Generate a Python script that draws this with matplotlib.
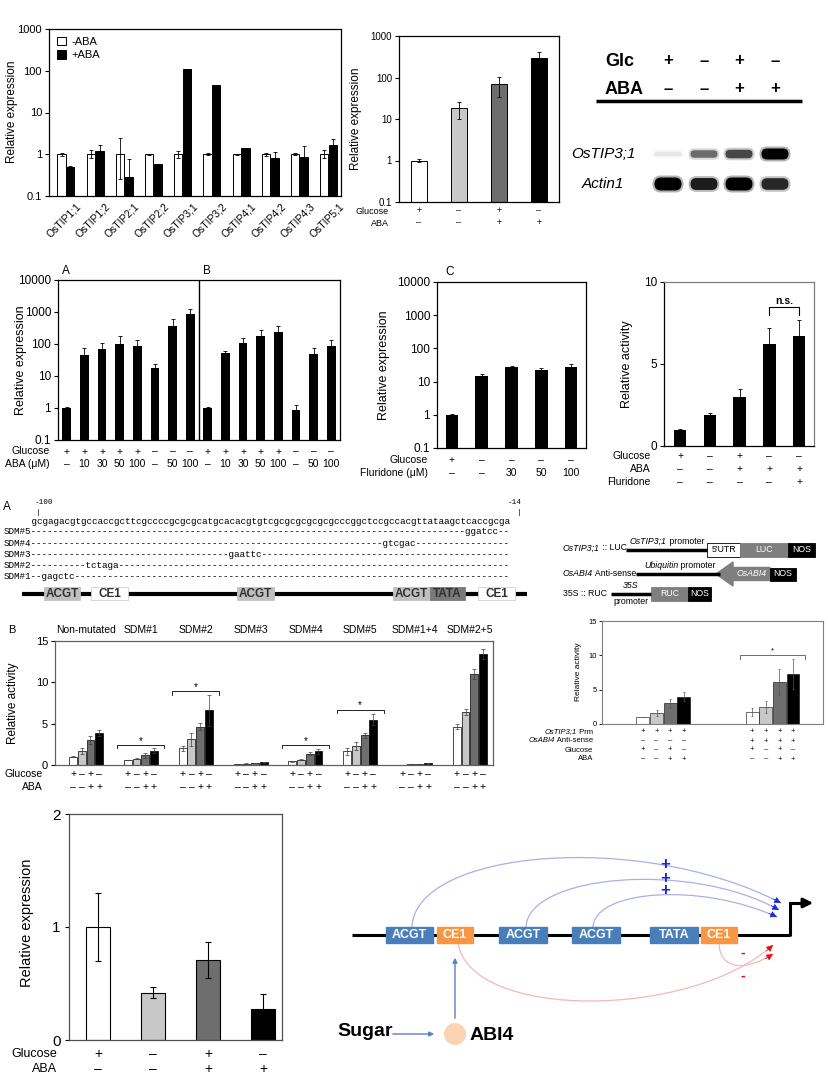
import matplotlib
matplotlib.use('Agg')
import matplotlib.pyplot as plt
import matplotlib.transforms as mtransforms
from matplotlib.patches import Rectangle, Polygon, Circle, FancyBboxPatch, PathPatch
from matplotlib.path import Path
from matplotlib.ticker import NullLocator
import numpy as np

plt.rcParams['font.family'] = ['Liberation Sans', 'DejaVu Sans']
plt.rcParams['axes.linewidth'] = 0.9

# ---------------- data ----------------
# TIP family, -ABA / +ABA
tip_genes = ['OsTIP1;1', 'OsTIP1;2', 'OsTIP2;1', 'OsTIP2;2', 'OsTIP3;1',
             'OsTIP3;2', 'OsTIP4;1', 'OsTIP4;2', 'OsTIP4;3', 'OsTIP5;1']
tip_minus = [1.0, 1.0, 1.0, 1.0, 1.0, 1.0, 1.0, 1.0, 1.0, 1.0]
tip_minus_lo = [0.08, 0.2, 0.75, 0.03, 0.2, 0.05, 0.03, 0.1, 0.06, 0.2]
tip_minus_hi = [0.08, 0.25, 1.5, 0.03, 0.2, 0.05, 0.03, 0.1, 0.06, 0.25]
tip_plus = [0.5, 1.2, 0.29, 0.57, 110, 45, 1.4, 0.82, 0.88, 1.65]
tip_plus_err = [0.03, 0.45, 0.5, 0.01, 3, 1.5, 0.05, 0.3, 0.7, 0.7]

# glucose / ABA qPCR
trt_glc = ['+', '–', '+', '–']
trt_aba = ['–', '–', '+', '+']
trt_expr = [1.0, 18, 68, 290]
trt_err = [0.07, 8, 35, 120]

# RT-PCR gel
gel_glc = ['+', '–', '+', '–']
gel_aba = ['–', '–', '+', '+']
band_tip31 = [0.08, 0.5, 0.65, 1.0]
band_actin = [1.0, 0.85, 1.0, 0.8]

# ABA dose response (A and B)
dose_glc = ['+', '+', '+', '+', '+', '–', '–', '–']
dose_aba = ['–', '10', '30', '50', '100', '–', '50', '100']
dose_a = [1.0, 45, 70, 100, 85, 18, 370, 870]
dose_a_err = [0.08, 28, 40, 75, 50, 5, 230, 350]
dose_b = [1.0, 52, 105, 180, 245, 0.88, 48, 85]
dose_b_err = [0.1, 8, 50, 100, 120, 0.35, 25, 45]

# fluridone (C)
flu_glc = ['+', '–', '–', '–', '–']
flu_dose = ['–', '–', '30', '50', '100']
flu_expr = [1.0, 15, 27, 22, 28]
flu_err = [0.08, 2, 2.5, 3, 5]

# promoter activity with fluridone
act_glc = ['+', '–', '+', '–', '–']
act_aba = ['–', '–', '+', '+', '+']
act_flu = ['–', '–', '–', '–', '+']
act_val = [1.0, 1.9, 3.0, 6.2, 6.7]
act_err = [0.03, 0.12, 0.5, 1.0, 1.0]

# promoter sequence and mutations
promoter_seq = 'gcgagacgtgccaccgcttcgccccgcgcgcatgcacacgtgtcgcgcgcgcgcgcccggctccgccacgttataagctcaccgcga'
sdm_names = ['SDM#5', 'SDM#4', 'SDM#3', 'SDM#2', 'SDM#1']
sdm_sites = [79, 64, 36, 10, 2]
sdm_muts = ['ggatcc', 'gtcgac', 'gaattc', 'tctaga', 'gagctc']

# site-directed mutants, activity
sdm_groups = ['Non-mutated', 'SDM#1', 'SDM#2', 'SDM#3', 'SDM#4', 'SDM#5', 'SDM#1+4', 'SDM#2+5']
sdm_glc = [1.0, 0.6, 2.0, 0.15, 0.45, 1.65, 0.05, 4.65]
sdm_ctrl = [1.65, 0.75, 3.1, 0.17, 0.65, 2.3, 0.1, 6.45]
sdm_glc_aba = [3.0, 1.2, 4.65, 0.25, 1.35, 3.6, 0.15, 11.05]
sdm_aba = [3.85, 1.75, 6.6, 0.35, 1.65, 5.5, 0.2, 13.4]
sdm_glc_err = [0.05, 0.05, 0.35, 0.02, 0.05, 0.4, 0.01, 0.25]
sdm_ctrl_err = [0.35, 0.08, 0.8, 0.02, 0.08, 0.5, 0.02, 0.35]
sdm_glc_aba_err = [0.5, 0.3, 0.4, 0.03, 0.2, 0.3, 0.02, 0.6]
sdm_aba_err = [0.4, 0.3, 1.9, 0.05, 0.3, 0.7, 0.03, 0.6]
sdm_sig_groups = [1, 2, 4, 5]
sdm_sig_y = [2.4, 8.9, 2.4, 6.7]
cond_glc = ['+', '–', '+', '–']
cond_aba = ['–', '–', '+', '+']

# ABI4 anti-sense
as_ctrl = [1.0, 1.6, 3.0, 4.0]
as_ctrl_err = [0.05, 0.5, 0.7, 0.6]
as_anti = [1.7, 2.5, 6.1, 7.25]
as_anti_err = [0.6, 0.9, 1.9, 2.2]
as_prm = ['+', '+', '+', '+', '+', '+', '+', '+']
as_anti_row = ['–', '–', '–', '–', '+', '+', '+', '+']

# bottom qPCR
bl_glc = ['+', '–', '+', '–']
bl_aba = ['–', '–', '+', '+']
bl_expr = [1.0, 0.42, 0.71, 0.27]
bl_err = [0.3, 0.05, 0.16, 0.14]

shades = ['white', '#c8c8c8', '#6e6e6e', 'black']

# ---------------- figure ----------------
W, H = 829, 1079
fig = plt.figure(figsize=(W / 100, H / 100), dpi=100)
bg = fig.add_axes([0, 0, 1, 1])
bg.set_xlim(0, W)
bg.set_ylim(H, 0)
bg.axis('off')
rend = fig.canvas.get_renderer()


def px_axes(x0, y0, x1, y1):
    ax = fig.add_axes([x0 / W, 1 - y1 / H, (x1 - x0) / W, (y1 - y0) / H])
    ax.patch.set_alpha(0)
    ax.set_xticks([])
    return ax


def sign_row(ax, xs, labels, y, fs, **kw):
    tr = mtransforms.blended_transform_factory(ax.transData, bg.transData)
    for x, s in zip(xs, labels):
        ax.text(x, y, s, transform=tr, ha='center', va='center', fontsize=fs, **kw)


def mixed(x, y, parts, fs, ha='left', color='black'):
    # text with italic and upright pieces, laid out side by side in pixel units
    arts = []
    cx = x
    for s, st in parts:
        t = bg.text(cx, y, s, fontsize=fs, style=st, va='center', ha='left', color=color)
        cx += t.get_window_extent(rend).width
        arts.append(t)
    shift = {'left': 0, 'center': (cx - x) / 2, 'right': cx - x}[ha]
    for t in arts:
        t.set_x(t.get_position()[0] - shift)


def log_axis(ax, top, fs):
    ax.set_yscale('log')
    ax.set_ylim(0.1, top)
    ticks = [t for t in [0.1, 1, 10, 100, 1000, 10000] if t <= top]
    ax.set_yticks(ticks)
    ax.set_yticklabels(['0.1' if t < 1 else str(int(t)) for t in ticks], fontsize=fs)
    ax.yaxis.set_minor_locator(NullLocator())
    ax.tick_params(axis='y', length=3, width=0.8, pad=2)


eb = dict(fmt='none', ecolor='black', elinewidth=0.6, capsize=1.5, capthick=0.6)
bold_font = dict(fontweight='bold', family='Liberation Sans')

# ---- panel: TIP family ----
ax1 = px_axes(49, 29, 341, 196)
xi = np.arange(len(tip_genes))
ax1.bar(xi - 0.15, tip_minus, 0.28, color='white', edgecolor='black', lw=0.7, label='-ABA')
ax1.bar(xi + 0.15, tip_plus, 0.28, color='black', edgecolor='black', lw=0.7, label='+ABA')
ax1.errorbar(xi - 0.15, tip_minus, yerr=[tip_minus_lo, tip_minus_hi], **eb)
ax1.errorbar(xi + 0.15, tip_plus, yerr=[np.zeros(len(tip_plus)), tip_plus_err], **eb)
log_axis(ax1, 1000, 8)
ax1.set_xlim(-0.58, 9.42)
ax1.set_xticks(xi)
ax1.set_xticklabels(tip_genes, rotation=45, ha='right', rotation_mode='anchor', fontsize=7.5)
ax1.tick_params(axis='x', length=0, pad=4)
for lbl in ax1.get_xticklabels():
    lbl.set_transform(lbl.get_transform() + mtransforms.ScaledTranslation(0.1, 0, fig.dpi_scale_trans))
ax1.legend(loc='upper left', frameon=False, fontsize=8, handlelength=0.8, handleheight=0.8,
           handletextpad=0.5, borderaxespad=0.3, labelspacing=0.3)
bg.text(12, 112, 'Relative expression', rotation=90, ha='center', va='center', fontsize=8.5)

# ---- panel: glucose/ABA qPCR ----
ax2 = px_axes(399, 36, 559, 202)
x2 = np.arange(len(trt_expr))
ax2.bar(x2, trt_expr, 0.42, color=shades, edgecolor='black', lw=0.7)
ax2.errorbar(x2, trt_expr, yerr=trt_err, **eb)
log_axis(ax2, 1000, 7)
ax2.set_xlim(-0.5, 3.5)
bg.text(356, 119, 'Relative expression', rotation=90, ha='center', va='center', fontsize=8.5)
sign_row(ax2, x2, trt_glc, 211, 6.5)
sign_row(ax2, x2, trt_aba, 223, 6.5)
bg.text(389, 211, 'Glucose', ha='right', va='center', fontsize=6.5)
bg.text(389, 223, 'ABA', ha='right', va='center', fontsize=6.5)

# ---- gel ----
lane_x = [668, 704, 739, 775]
bg.text(605, 61, 'Glc', fontsize=13, va='center', **bold_font)
bg.text(605, 89, 'ABA', fontsize=13, va='center', **bold_font)
for xl, g, a in zip(lane_x, gel_glc, gel_aba):
    bg.text(xl, 61, g, fontsize=12, ha='center', va='center', **bold_font)
    bg.text(xl, 89, a, fontsize=12, ha='center', va='center', **bold_font)
bg.plot([596, 802], [101, 101], color='black', lw=2.5, solid_capstyle='butt')
bg.text(603, 154, 'OsTIP3;1', fontsize=11, style='italic', ha='center', va='center')
bg.text(603, 184, 'Actin1', fontsize=11, style='italic', ha='center', va='center')
for yc, bands, base in [(154, band_tip31, 4), (184, band_actin, 6)]:
    for xl, a in zip(lane_x, bands):
        h = base + 7 * a
        bg.add_patch(FancyBboxPatch((xl - 15.5, yc - h / 2 - 2), 31, h + 4,
                                    boxstyle='round,pad=0,rounding_size=%.1f' % ((h + 4) / 2),
                                    fc='black', ec='none', alpha=0.3 * a))
        bg.add_patch(FancyBboxPatch((xl - 13.5, yc - h / 2), 27, h,
                                    boxstyle='round,pad=0,rounding_size=%.1f' % (h / 2),
                                    fc='black', ec='none', alpha=a))

# ---- panel A/B: ABA dose ----
ax3 = px_axes(58, 280, 340, 440)
x3 = np.arange(len(dose_a) + len(dose_b))
vals3 = dose_a + dose_b
errs3 = dose_a_err + dose_b_err
ax3.bar(x3, vals3, 0.5, color='black')
ax3.errorbar(x3, vals3, yerr=[np.zeros(len(vals3)), errs3], **eb)
log_axis(ax3, 10000, 8.5)
ax3.set_xlim(-0.5, 15.5)
ax3.axvline(7.5, color='black', lw=1)
bg.text(62, 271, 'A', fontsize=8.5, va='center')
bg.text(203, 271, 'B', fontsize=8.5, va='center')
bg.text(21, 360, 'Relative expression', rotation=90, ha='center', va='center', fontsize=9)
sign_row(ax3, x3, dose_glc + dose_glc, 451.5, 7.5)
sign_row(ax3, x3, dose_aba + dose_aba, 464, 7.5)
bg.text(50, 451.5, 'Glucose', ha='right', va='center', fontsize=7.5)
bg.text(50, 464, 'ABA (μM)', ha='right', va='center', fontsize=7.5)

# ---- panel C: fluridone ----
ax4 = px_axes(437, 282, 586, 448)
x4 = np.arange(len(flu_expr))
ax4.bar(x4, flu_expr, 0.42, color='black')
ax4.errorbar(x4, flu_expr, yerr=[np.zeros(len(flu_expr)), flu_err], **eb)
log_axis(ax4, 10000, 8.5)
ax4.set_xlim(-0.5, 4.5)
bg.text(445, 272, 'C', fontsize=8.5, va='center')
bg.text(384, 365, 'Relative expression', rotation=90, ha='center', va='center', fontsize=9)
sign_row(ax4, x4, flu_glc, 460, 7.5)
sign_row(ax4, x4, flu_dose, 473, 7.5)
bg.text(428, 460, 'Glucose', ha='right', va='center', fontsize=7.5)
bg.text(428, 473, 'Fluridone (μM)', ha='right', va='center', fontsize=7.5)

# ---- panel: relative activity with fluridone ----
ax5 = px_axes(664, 282, 814, 446)
x5 = np.arange(len(act_val))
ax5.bar(x5, act_val, 0.42, color='black')
ax5.errorbar(x5, act_val, yerr=[np.zeros(len(act_val)), act_err], **eb)
ax5.set_ylim(0, 10)
ax5.set_xlim(-0.54, 4.5)
ax5.set_yticks([0, 5, 10])
ax5.set_yticklabels(['0', '5', '10'], fontsize=8.5)
ax5.tick_params(axis='y', length=3, width=0.8, pad=2)
for s in ['top', 'right']:
    ax5.spines[s].set_color('#7f7f7f')
ax5.plot([3, 3, 4, 4], [7.97, 8.48, 8.48, 7.97], color='black', lw=0.8)
ax5.text(3.5, 8.85, 'n.s.', ha='center', va='center', fontsize=7.5, fontweight='bold')
bg.text(627, 364, 'Relative activity', rotation=90, ha='center', va='center', fontsize=9)
sign_row(ax5, x5, act_glc, 456, 7.5)
sign_row(ax5, x5, act_aba, 469, 7.5)
sign_row(ax5, x5, act_flu, 482, 7.5)
bg.text(651, 456, 'Glucose', ha='right', va='center', fontsize=7.5)
bg.text(651, 469, 'ABA', ha='right', va='center', fontsize=7.5)
bg.text(651, 482, 'Fluridone', ha='right', va='center', fontsize=7.5)

# ---- promoter sequence ----
mono = dict(family='Liberation Mono', fontsize=6.7, va='center')
bg.text(3, 507, 'A', fontsize=8.5, va='center')
bg.text(35, 503, '-100', family='Liberation Mono', fontsize=5.5, va='center')
bg.text(38, 512, '|', family='Liberation Mono', fontsize=5.5, va='center', ha='center')
bg.text(522, 503, '-14', family='Liberation Mono', fontsize=5.5, va='center', ha='right')
bg.text(519, 512, '|', family='Liberation Mono', fontsize=5.5, va='center', ha='center')
bg.text(4, 521, ' ' * 5 + promoter_seq, **mono)
n_seq = len(promoter_seq)
for k, (nm, pos, mut) in enumerate(zip(sdm_names, sdm_sites, sdm_muts)):
    line = nm + '-' * pos + mut + '-' * (n_seq - pos - len(mut))
    bg.text(4, 532 + k * 11.2, line, **mono)

# promoter element map
bg.plot([22, 527], [593.5, 593.5], color='black', lw=3, solid_capstyle='butt', zorder=1)
elem_boxes = [(44, 80, 'ACGT', '#c0c0c0'), (91, 128, 'CE1', 'white'),
              (237, 274, 'ACGT', '#c0c0c0'), (393, 430, 'ACGT', '#c0c0c0'),
              (430, 465, 'TATA', '#7a7a7a'), (478, 515, 'CE1', 'white')]
for x0, x1, lab, col in elem_boxes:
    bg.add_patch(Rectangle((x0, 587), x1 - x0, 13, fc=col, ec='#d0d0d0' if col == 'white' else col,
                           lw=0.6, zorder=2))
    bg.text((x0 + x1) / 2, 594, lab, ha='center', va='center', fontsize=8.5,
            color='#303030', zorder=3, **bold_font)

# ---- constructs ----
cf = 6.3
mixed(563, 548, [('OsTIP3;1', 'italic'), (' :: LUC', 'normal')], cf)
bg.plot([626, 707], [550, 550], color='black', lw=2.5, solid_capstyle='butt')
mixed(667, 541, [('OsTIP3;1', 'italic'), (' promoter', 'normal')], cf, ha='center')
bg.add_patch(Rectangle((707, 543), 33, 14, fc='white', ec='black', lw=0.6))
bg.text(723.5, 550, "5'UTR", fontsize=cf, ha='center', va='center')
bg.add_patch(Rectangle((740, 543), 48, 14, fc='#7f7f7f', ec='#7f7f7f', lw=0.6))
bg.text(764, 550, 'LUC', fontsize=cf, ha='center', va='center', color='white')
bg.add_patch(Rectangle((788, 543), 27, 14, fc='black', ec='black', lw=0.6))
bg.text(801.5, 550, 'NOS', fontsize=cf, ha='center', va='center', color='white')

mixed(563, 574, [('OsABI4', 'italic'), (' Anti-sense', 'normal')], cf)
bg.plot([636, 720], [574, 574], color='black', lw=2.5, solid_capstyle='butt')
mixed(680, 565, [('Ubiquitin', 'italic'), (' promoter', 'normal')], cf, ha='center')
bg.add_patch(Polygon([(716, 574), (733, 562), (733, 567.5), (770, 567.5), (770, 580.5),
                      (733, 580.5), (733, 586)], closed=True, fc='#7f7f7f', ec='#7f7f7f'))
bg.text(752, 574, 'OsABI4', fontsize=cf, style='italic', ha='center', va='center', color='white')
bg.add_patch(Rectangle((770, 567.5), 26, 13, fc='black', ec='black', lw=0.6))
bg.text(783, 574, 'NOS', fontsize=cf, ha='center', va='center', color='white')

bg.text(563, 594, '35S :: RUC', fontsize=cf, va='center')
bg.plot([611, 651], [594, 594], color='black', lw=2.5, solid_capstyle='butt')
bg.text(631, 586, '35S', fontsize=cf, style='italic', ha='center', va='center')
bg.text(631, 601, 'promoter', fontsize=cf, ha='center', va='center')
bg.add_patch(Rectangle((651, 587), 37, 14, fc='#7f7f7f', ec='#7f7f7f', lw=0.6))
bg.text(669.5, 594, 'RUC', fontsize=cf, ha='center', va='center', color='white')
bg.add_patch(Rectangle((688, 587), 23, 14, fc='black', ec='black', lw=0.6))
bg.text(699.5, 594, 'NOS', fontsize=cf, ha='center', va='center', color='white')

# ---- panel B: site-directed mutants ----
ax6 = px_axes(55, 641, 493, 765)
gstep = 6.3
sdm_series = [sdm_glc, sdm_ctrl, sdm_glc_aba, sdm_aba]
sdm_errs = [sdm_glc_err, sdm_ctrl_err, sdm_glc_aba_err, sdm_aba_err]
gpos = np.arange(len(sdm_groups)) * gstep
for j, (vals, errs) in enumerate(zip(sdm_series, sdm_errs)):
    ax6.bar(gpos + j, vals, 0.9, color=shades[j], edgecolor='black', lw=0.5)
    ax6.errorbar(gpos + j, vals, yerr=errs, fmt='none', ecolor='#404040', elinewidth=0.5,
                 capsize=1.2, capthick=0.5)
ax6.set_ylim(0, 15)
ax6.set_xlim(-2.07, 48.25)
ax6.set_yticks([0, 5, 10, 15])
ax6.set_yticklabels(['0', '5', '10', '15'], fontsize=8)
ax6.tick_params(axis='y', length=3, width=0.8, pad=2)
for s in ax6.spines.values():
    s.set_color('#606060')
for g, ys in zip(sdm_sig_groups, sdm_sig_y):
    x0, x1 = g * gstep - 1.2, g * gstep + 4.2
    ax6.plot([x0, x0, x1, x1], [ys - 0.4, ys, ys, ys - 0.4], color='black', lw=0.6)
    ax6.text((x0 + x1) / 2, ys + 0.55, '*', ha='center', va='center', fontsize=7)
bg.text(8, 630, 'B', fontsize=8, va='center')
tr6 = mtransforms.blended_transform_factory(ax6.transData, bg.transData)
for g, nm in enumerate(sdm_groups):
    ax6.text(g * gstep + 1.5, 630, nm, transform=tr6, ha='center', va='center', fontsize=7.5)
bg.text(13, 703, 'Relative activity', rotation=90, ha='center', va='center', fontsize=8.5)
for g in gpos:
    sign_row(ax6, g + np.arange(4), cond_glc, 774, 7.5)
    sign_row(ax6, g + np.arange(4), cond_aba, 787, 7.5)
bg.text(43, 774, 'Glucose', ha='right', va='center', fontsize=7.5)
bg.text(43, 787, 'ABA', ha='right', va='center', fontsize=7.5)

# ---- panel: ABI4 anti-sense ----
ax7 = px_axes(602, 621, 823, 724)
g7 = [0, 8]
for j in range(4):
    ax7.bar([g7[0] + j, g7[1] + j], [as_ctrl[j], as_anti[j]], 0.95, color=shades[j],
            edgecolor='black', lw=0.4)
    ax7.errorbar([g7[0] + j, g7[1] + j], [as_ctrl[j], as_anti[j]],
                 yerr=[as_ctrl_err[j], as_anti_err[j]], fmt='none', ecolor='#555555',
                 elinewidth=0.5, capsize=1, capthick=0.5)
ax7.set_ylim(0, 15)
ax7.set_xlim(-3.0, 13.2)
ax7.set_yticks([0, 5, 10, 15])
ax7.set_yticklabels(['0', '5', '10', '15'], fontsize=5.5)
ax7.tick_params(axis='y', length=2, width=0.6, pad=1.5)
for s in ax7.spines.values():
    s.set_color('#7f7f7f')
    s.set_linewidth(0.8)
ax7.plot([7.1, 7.1, 11.9, 11.9], [9.4, 10.0, 10.0, 9.4], color='#555555', lw=0.6)
ax7.text(9.5, 10.6, '*', ha='center', va='center', fontsize=5.5)
bg.text(579, 672, 'Relative activity', rotation=90, ha='center', va='center', fontsize=6)
x7 = [0, 1, 2, 3, 8, 9, 10, 11]
sign_row(ax7, x7, as_prm, 732, 5.5)
sign_row(ax7, x7, as_anti_row, 741, 5.5)
sign_row(ax7, x7, cond_glc + cond_glc, 750, 5.5)
sign_row(ax7, x7, cond_aba + cond_aba, 759, 5.5)
mixed(593, 732, [('OsTIP3;1', 'italic'), (' Prm', 'normal')], 5.5, ha='right')
mixed(593, 741, [('OsABI4', 'italic'), (' Anti-sense', 'normal')], 5.5, ha='right')
bg.text(593, 750, 'Glucose', ha='right', va='center', fontsize=5.5)
bg.text(593, 759, 'ABA', ha='right', va='center', fontsize=5.5)

# ---- bottom qPCR ----
ax8 = px_axes(69, 814, 282, 1040)
x8 = np.arange(len(bl_expr))
ax8.bar(x8, bl_expr, 0.42, color=shades, edgecolor='black', lw=0.8)
ax8.errorbar(x8, bl_expr, yerr=bl_err, fmt='none', ecolor='black', elinewidth=0.8,
             capsize=2, capthick=0.8)
ax8.set_ylim(0, 2)
ax8.set_xlim(-0.527, 3.345)
ax8.set_yticks([0, 1, 2])
ax8.set_yticklabels(['0', '1', '2'], fontsize=11)
ax8.tick_params(axis='y', length=3, width=0.8, pad=3)
for s in ax8.spines.values():
    s.set_color('#505050')
bg.text(27, 923, 'Relative expression', rotation=90, ha='center', va='center', fontsize=10.5)
sign_row(ax8, x8, bl_glc, 1054, 10)
sign_row(ax8, x8, bl_aba, 1069, 10)
bg.text(57, 1054, 'Glucose', ha='right', va='center', fontsize=9)
bg.text(57, 1069, 'ABA', ha='right', va='center', fontsize=9)

# ---- model diagram ----
blue = '#4a7ebb'
orange = '#f79646'
bg.plot([352, 790], [935, 935], color='black', lw=2.2, solid_capstyle='butt', zorder=1)
model_boxes = [(386, 433, 'ACGT', blue), (437, 473, 'CE1', orange), (499, 547, 'ACGT', blue),
               (572, 620, 'ACGT', blue), (650, 698, 'TATA', blue), (701, 737, 'CE1', orange)]
for x0, x1, lab, col in model_boxes:
    bg.add_patch(Rectangle((x0, 927), x1 - x0, 16, fc=col, ec=col, zorder=2))
    bg.text((x0 + x1) / 2, 935, lab, ha='center', va='center', color='white', fontsize=9,
            zorder=3, **bold_font)
# transcription start
bg.plot([790, 790, 803], [936, 903, 903], color='black', lw=2.2, solid_capstyle='butt',
        solid_joinstyle='miter')
bg.annotate('', xy=(816, 903), xytext=(800, 903),
            arrowprops=dict(arrowstyle='-|>', color='black', lw=2.2, mutation_scale=14))


def curve(pts, line_col, head_col):
    verts = [tuple(p) for p in pts]
    bg.add_patch(PathPatch(Path(verts, [Path.MOVETO, Path.CURVE4, Path.CURVE4, Path.CURVE4]),
                           fc='none', ec=line_col, lw=0.9))
    end = np.array(pts[3], dtype=float)
    d = end - np.array(pts[2], dtype=float)
    d = d / np.hypot(*d)
    bg.annotate('', xy=tuple(end), xytext=tuple(end - 9 * d),
                arrowprops=dict(arrowstyle='-|>', color=head_col, lw=0.5, mutation_scale=10,
                                shrinkA=0, shrinkB=0))


curve([(412, 927), (415, 850), (640, 830), (781, 903)], '#a9b0e8', '#1a2bd0')
curve([(526, 927), (528, 875), (690, 860), (779, 910)], '#a9b0e8', '#1a2bd0')
curve([(593, 927), (595, 890), (700, 882), (777, 917)], '#a9b0e8', '#1a2bd0')
for yy in [864, 878, 891]:
    bg.text(665, yy, '+', color='#1a2bd0', fontsize=12, ha='center', va='center', **bold_font)
curve([(458, 943), (470, 1020), (690, 1020), (773, 945)], '#f2b8b8', '#e01010')
curve([(719, 943), (720, 972), (748, 970), (773, 954)], '#f2b8b8', '#e01010')
for yy in [953, 976]:
    bg.text(743, yy, '-', color='#e01010', fontsize=10, ha='center', va='center', **bold_font)

bg.text(337, 1032, 'Sugar', fontsize=14, va='center', **bold_font)
bg.annotate('', xy=(437, 1034), xytext=(390, 1034),
            arrowprops=dict(arrowstyle='-|>', color='#5b7fbf', lw=1, mutation_scale=7))
bg.add_patch(Circle((455, 1034), 11, fc='#fbd4b4', ec='none'))
bg.text(470, 1036, 'ABI4', fontsize=14, va='center', **bold_font)
bg.annotate('', xy=(455, 955), xytext=(455, 1021),
            arrowprops=dict(arrowstyle='-|>', color='#5b7fbf', lw=1, mutation_scale=7))

fig.savefig('out.png', dpi=100)
